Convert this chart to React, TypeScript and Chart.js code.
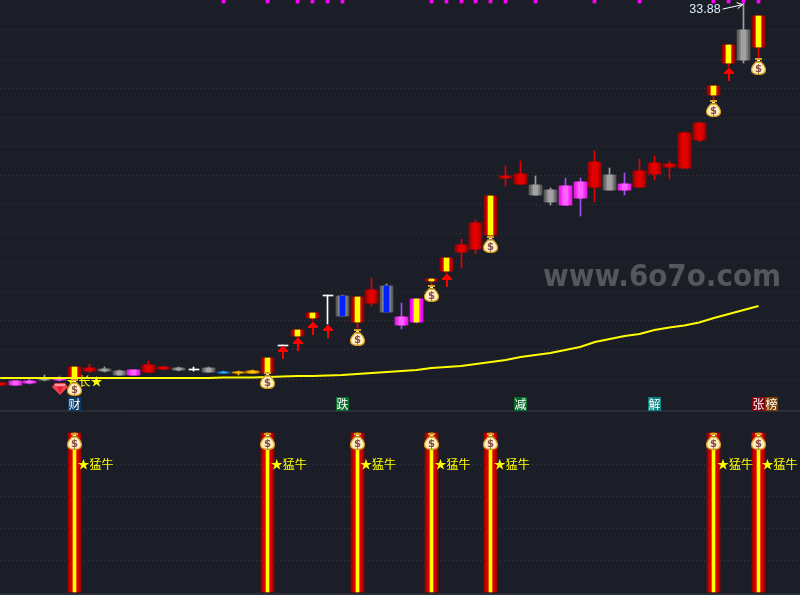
import React, { useEffect, useRef } from "react";
import Chart from "chart.js/auto";

// ---- price panel data (one entry per session) ----
const sessions = Array.from({ length: 52 }, (_, i) => i);
const bodyHigh = [7.73,7.87,7.83,8.07,8.07,8.83,8.76,8.69,8.57,8.62,8.97,8.83,8.76,8.71,8.76,8.49,8.49,8.55,9.45,10.36,11.37,12.54,13.76,13.71,13.64,14.12,14.40,12.27,13.50,14.88,16.32,17.22,18.73,20.59,21.96,22.10,21.34,21.00,21.27,21.55,22.92,22.03,21.41,22.30,22.85,22.79,24.92,25.60,28.15,30.97,32.00,32.96];
const bodyLow = [7.59,7.59,7.73,7.93,7.93,8.07,8.55,8.55,8.28,8.28,8.49,8.69,8.62,8.62,8.49,8.42,8.42,8.42,8.42,10.29,10.96,12.20,13.69,12.34,11.92,13.23,12.61,11.72,11.92,14.74,15.43,16.74,16.94,17.90,21.82,21.41,20.65,20.17,19.97,20.45,21.20,21.00,21.00,21.20,22.10,22.58,22.51,24.43,27.53,29.73,29.94,30.83];
const wickHigh = [7.73,7.87,8.00,8.28,8.21,8.83,9.03,8.83,8.62,8.62,9.24,8.90,8.83,8.81,8.83,8.53,8.55,8.62,9.45,10.36,11.37,12.54,13.76,13.78,13.64,14.95,14.53,13.23,13.50,14.88,16.32,17.63,18.94,20.59,22.65,22.99,21.96,21.13,21.82,21.82,23.68,22.51,22.17,23.13,23.33,22.99,24.99,25.60,28.15,30.97,33.88,32.96];
const wickLow = [7.59,7.59,7.66,7.87,7.87,7.80,8.42,8.48,8.28,8.28,8.49,8.62,8.55,8.53,8.49,8.38,8.28,8.42,8.07,10.29,10.75,11.99,11.79,12.34,11.51,13.02,12.61,11.44,11.85,14.40,15.29,15.63,16.60,17.70,21.27,21.41,20.65,19.97,19.97,19.21,20.17,21.00,20.65,21.20,21.69,21.75,22.51,24.30,27.19,29.45,29.73,30.07];
const candleKinds = ["R","M","M","G","M","Y","R","G","G","M","R","R","G","W","G","C","O","O","Y","W","Y","Y","W","B","Y","R","B","M","N","Y","Y","R","R","Y","R","R","G","G","M","M","R","G","M","R","R","R","R","R","Y","Y","G","Y"];
const movingAverage = [8.07,8.07,8.07,8.07,8.07,8.07,8.07,8.07,8.07,8.07,8.07,8.07,8.07,8.07,8.07,8.11,8.11,8.11,8.14,8.18,8.21,8.21,8.24,8.28,8.35,8.42,8.49,8.55,8.62,8.76,8.83,8.90,9.03,9.17,9.31,9.52,9.65,9.79,10.00,10.20,10.55,10.75,10.96,11.10,11.37,11.54,11.68,11.89,12.20,12.47,12.75,13.02];

const bagSessions = [5, 18, 24, 29, 33, 48, 51];
const bagPrices = [7.45, 7.93, 10.86, 13.85, 17.22, 26.63, 29.52];
const arrowSessions = [19, 20, 21, 22, 30, 49];
const arrowPrices = [9.83, 10.34, 11.44, 11.27, 14.78, 28.94];
const topMarkSessions = [15, 18, 20, 21, 22, 23, 29, 30, 31, 32, 33, 34, 36, 40, 43, 48, 49, 50, 51];
const gemSession = 4;
const gemPrice = 7.32;

const tagTexts = ["财", "跌", "减", "解", "张", "榜"];
const tagSessions = [5, 23, 35, 44, 51, 51.85];
const tagColors = ["#0b3a66", "#0a6a2a", "#0a6a2a", "#0a8080", "#800010", "#804000"];
const tagPrice = 6.28;

const priceTicks = [8, 10, 12, 14, 16, 18, 20, 22, 24, 26, 28, 30, 32];
const indicatorTicks = [20, 40, 60, 80];
const signalValue = 100;
const signalBagValue = 94.5;
const signalTextValue = 80;
const dividerValue = 113.84;
const bottomValue = -1.26;
const highLabel = "33.88";
const signalLabel = "★猛牛";
const watermark = "www.6o7o.com";

// ---- colours by candle kind: [wick, edge, mid, centre] ----
const kindColors: Record<string, string[]> = {
  R: ["#e00000", "#a00000", "#c80000", "#e40000"],
  G: ["#a0a0a0", "#5a5a5a", "#7c7c7c", "#a2a2a2"],
  M: ["#a050f0", "#e020e0", "#f830f8", "#ff60ff"],
  Y: ["#e00000", "#980000", "#d00000", "#ffff00"],
  B: ["#a0a0a0", "#5a5a5a", "#808080", "#0020ff"],
  N: ["#a050f0", "#f000f0", "#ff20ff", "#ffff00"],
  C: ["#30a0ff", "#0060c0", "#1088e0", "#30b0ff"],
  O: ["#ffc000", "#d08000", "#f0a000", "#ffc800"],
  W: ["#ffffff", "#ffffff", "#ffffff", "#ffffff"],
};

function makeBag() {
  const c = document.createElement("canvas");
  c.width = 15;
  c.height = 17;
  const g = c.getContext("2d")!;
  // tie
  g.fillStyle = "#d8a020";
  g.fillRect(4, 0, 7, 2);
  g.fillStyle = "#503010";
  g.fillRect(5, 3, 5, 1);
  g.fillStyle = "#fff4c8";
  g.fillRect(6, 2, 3, 1);
  // sack
  g.beginPath();
  g.moveTo(5, 4);
  g.lineTo(10, 4);
  g.bezierCurveTo(12, 6, 14.5, 8, 14.5, 11.5);
  g.bezierCurveTo(14.5, 15, 11.5, 16.5, 7.5, 16.5);
  g.bezierCurveTo(3.5, 16.5, 0.5, 15, 0.5, 11.5);
  g.bezierCurveTo(0.5, 8, 3, 6, 5, 4);
  g.closePath();
  g.fillStyle = "#fff0c0";
  g.fill();
  g.lineWidth = 1.3;
  g.strokeStyle = "#d09a20";
  g.stroke();
  g.fillStyle = "#8a4a48";
  g.font = "bold 10px 'DejaVu Sans'";
  g.textAlign = "center";
  g.textBaseline = "middle";
  g.fillText("$", 7.5, 11);
  return c;
}

function makeArrow() {
  const c = document.createElement("canvas");
  c.width = 10;
  c.height = 13;
  const g = c.getContext("2d")!;
  g.fillStyle = "#ff0000";
  for (let row = 0; row < 6; row++) {
    const half = Math.min(5, row + 1);
    g.fillRect(5 - half, row, half * 2, 1);
  }
  g.fillRect(4, 6, 2, 7);
  return c;
}

function makeGem() {
  const c = document.createElement("canvas");
  c.width = 16;
  c.height = 12;
  const g = c.getContext("2d")!;
  g.beginPath();
  g.moveTo(3, 0);
  g.lineTo(13, 0);
  g.lineTo(16, 4);
  g.lineTo(8, 12);
  g.lineTo(0, 4);
  g.closePath();
  g.fillStyle = "#f04050";
  g.fill();
  g.fillStyle = "#ff9aa0";
  g.fillRect(3, 1, 10, 2);
  g.beginPath();
  g.moveTo(5, 4);
  g.lineTo(11, 4);
  g.lineTo(8, 10);
  g.closePath();
  g.fillStyle = "#e02035";
  g.fill();
  return c;
}

const cjk = "'Noto Sans CJK SC'";

// keep bars and icons on whole device pixels, like the original terminal rendering
const snapCentre = (v: number, size: number) => (size % 2 === 1 ? Math.floor(v) + 0.5 : Math.floor(v) + 1);
const snapPlugin = {
  id: "pixelSnap",
  afterDatasetsUpdate(chart: any) {
    chart.data.datasets.forEach((ds: any, index: number) => {
      const meta = chart.getDatasetMeta(index);
      if (ds.type === "bar") {
        meta.data.forEach((el: any) => {
          el.x = snapCentre(el.x, Math.round(el.width));
          el.y = Math.round(el.y);
          el.base = Math.round(el.base);
          if (el.y === el.base) el.y -= 1;
        });
      } else if (ds.showLine === false) {
        meta.data.forEach((el: any) => {
          el.x = snapCentre(el.x, ds.pointStyle.width);
          el.y = snapCentre(el.y, ds.pointStyle.height);
        });
      }
    });
  },
};

const textPlugin = {
  id: "chartTexts",
  beforeDatasetsDraw(chart: any) {
    const { ctx, scales } = chart;
    ctx.save();
    ctx.fillStyle = "#ffff00";
    ctx.font = `12px ${cjk}`;
    ctx.textBaseline = "middle";
    ctx.fillText("★长★", scales.x.getPixelForValue(5) - 8, scales.y.getPixelForValue(7.85));
    ctx.restore();
  },
  afterDatasetsDraw(chart: any) {
    const { ctx, scales } = chart;
    const { x, y, y2 } = scales;
    ctx.save();
    ctx.textBaseline = "middle";
    ctx.textAlign = "center";
    ctx.font = `12px ${cjk}`;
    tagTexts.forEach((t, i) => {
      const px = Math.floor(x.getPixelForValue(tagSessions[i]));
      const py = y.getPixelForValue(tagPrice);
      ctx.fillStyle = tagColors[i];
      ctx.fillRect(px - 6, Math.round(py) - 7, 13, 14);
      ctx.fillStyle = "#ffffff";
      ctx.fillText(t, px + 0.5, py);
    });
    ctx.textAlign = "left";
    ctx.fillStyle = "#ffff00";
    bagSessions.forEach((s) => {
      ctx.fillText(signalLabel, x.getPixelForValue(s) + 3, y2.getPixelForValue(signalTextValue));
    });
    // high-price call-out
    const hx = x.getPixelForValue(50);
    const hy = y.getPixelForValue(33.88);
    ctx.font = "12.5px 'Liberation Sans'";
    ctx.fillStyle = "#dceaff";
    ctx.textAlign = "right";
    ctx.fillText(highLabel, hx - 23, hy + 6.5);
    ctx.strokeStyle = "#ffffff";
    ctx.lineWidth = 1;
    ctx.beginPath();
    ctx.moveTo(hx - 21, hy + 6.5);
    ctx.lineTo(hx - 1, hy + 2);
    ctx.moveTo(hx - 7, hy);
    ctx.lineTo(hx - 1, hy + 2);
    ctx.lineTo(hx - 6, hy + 6);
    ctx.stroke();
    // watermark
    ctx.font = "bold 30px 'DejaVu Sans'";
    ctx.fillStyle = "#55575d";
    ctx.textAlign = "left";
    ctx.textBaseline = "alphabetic";
    ctx.fillText(watermark, 543, 286, 238);
    ctx.restore();
  },
};

const kindOf = (i: number) => kindColors[candleKinds[i]];
const isWhite = (i: number) => candleKinds[i] === "W";

export default function App() {
  const ref = useRef<HTMLCanvasElement>(null);

  useEffect(() => {
    const bag = makeBag();
    const arrow = makeArrow();
    const gem = makeGem();
    const bodies = sessions.filter((i) => !isWhite(i));
    const whites = sessions.filter(isWhite);
    const bodyData = (list: number[]) => list.map((i) => ({ x: i, y: [bodyLow[i], bodyHigh[i]] }));
    const signalBars = bagSessions.map((s) => ({ x: s, y: [0, signalValue] }));

    const bar = (extra: any) => ({ type: "bar", grouped: false, borderWidth: 0, ...extra });

    const chart = new Chart(ref.current!, {
      data: {
        datasets: [
          bar({ label: "wick", order: 20, barThickness: 1, data: sessions.map((i) => ({ x: i, y: [wickLow[i], wickHigh[i]] })), backgroundColor: sessions.map((i) => kindOf(i)[0]) }),
          bar({ label: "edge", order: 19, barThickness: 13, data: bodyData(bodies), backgroundColor: bodies.map((i) => kindOf(i)[1]) }),
          bar({ label: "mid", order: 18, barThickness: 9, data: bodyData(bodies), backgroundColor: bodies.map((i) => kindOf(i)[2]) }),
          bar({ label: "centre", order: 17, barThickness: 5, data: bodyData(bodies), backgroundColor: bodies.map((i) => kindOf(i)[3]) }),
          bar({ label: "doji", order: 16, barThickness: 10, data: bodyData(whites), backgroundColor: "#ffffff" }),
          bar({ label: "top marks", order: 15, barThickness: 3, data: topMarkSessions.map((s) => ({ x: s, y: [33.85, 34.06] })), backgroundColor: "#ff00ff" }),
          bar({ label: "signal edge", order: 14, yAxisID: "y2", barThickness: 13, data: signalBars, backgroundColor: "#a00000" }),
          bar({ label: "signal mid", order: 13, yAxisID: "y2", barThickness: 9, data: signalBars, backgroundColor: "#d80000" }),
          bar({ label: "signal centre", order: 12, yAxisID: "y2", barThickness: 3, data: signalBars, backgroundColor: "#ffff00" }),
          { type: "line", label: "MA", order: 10, data: sessions.map((i) => ({ x: i, y: movingAverage[i] })), borderColor: "#ffff00", borderWidth: 2, pointRadius: 0, tension: 0 },
          { type: "line", label: "divider", order: 9, yAxisID: "y2", data: [{ x: -1, y: dividerValue }, { x: 60, y: dividerValue }], borderColor: "#3a3e48", borderWidth: 1, pointRadius: 0 },
          { type: "line", label: "bottom", order: 9, yAxisID: "y2", data: [{ x: -1, y: bottomValue }, { x: 60, y: bottomValue }], borderColor: "#3a3e48", borderWidth: 1, pointRadius: 0 },
          { type: "line", label: "gem", order: 5, showLine: false, data: [{ x: gemSession, y: gemPrice }], pointStyle: gem, pointRadius: 8 },
          { type: "line", label: "arrows", order: 4, showLine: false, data: arrowSessions.map((s, i) => ({ x: s, y: arrowPrices[i] })), pointStyle: arrow, pointRadius: 6 },
          { type: "line", label: "bags", order: 3, showLine: false, data: bagSessions.map((s, i) => ({ x: s, y: bagPrices[i] })), pointStyle: bag, pointRadius: 8 },
          { type: "line", label: "signal bags", order: 2, yAxisID: "y2", showLine: false, data: bagSessions.map((s) => ({ x: s, y: signalBagValue })), pointStyle: bag, pointRadius: 8 },
        ],
      } as any,
      options: {
        responsive: false,
        animation: false,
        devicePixelRatio: 1,
        layout: { padding: 0, autoPadding: false },
        plugins: { legend: { display: false }, tooltip: { enabled: false } },
        scales: {
          x: { type: "linear", offset: false, min: -0.0101, max: 53.79, display: false },
          y: {
            type: "linear",
            min: -6.85,
            max: 34.06,
            border: { display: false, dash: [1, 3] },
            grid: { color: "#383b44", drawTicks: false },
            ticks: { display: false },
            afterBuildTicks: (s: any) => { s.ticks = priceTicks.map((value) => ({ value })); },
            afterFit: (s: any) => { s.width = 0; },
          },
          y2: {
            type: "linear",
            position: "left",
            min: -1.887,
            max: 372.33,
            border: { display: false, dash: [1, 3] },
            grid: { color: "#383b44", drawTicks: false },
            ticks: { display: false },
            afterBuildTicks: (s: any) => { s.ticks = indicatorTicks.map((value) => ({ value })); },
            afterFit: (s: any) => { s.width = 0; },
          },
        },
      } as any,
      plugins: [snapPlugin, textPlugin],
    });
    return () => chart.destroy();
  }, []);

  return (
    <div style={{ position: "absolute", left: 0, top: 0, width: 800, height: 595, background: "#1b1e27" }}>
      <canvas ref={ref} width={800} height={595} style={{ display: "block" }} />
    </div>
  );
}
